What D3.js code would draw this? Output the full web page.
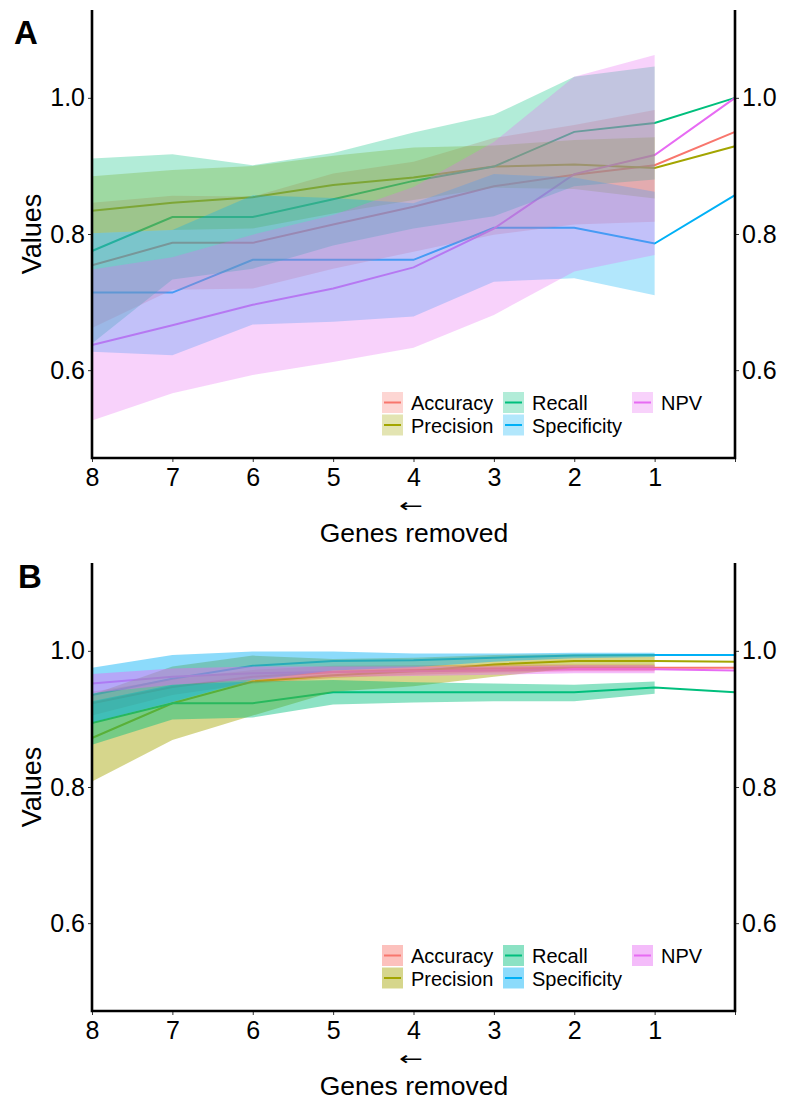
<!DOCTYPE html>
<html><head><meta charset="utf-8">
<script src="https://cdn.jsdelivr.net/npm/d3@7"></script>
<style>body{margin:0;background:#fff} svg{display:block}</style>
</head><body><svg id="c" width="788" height="1103"></svg>
<script>
// ---------- data ----------
const genesRemoved = [8, 7, 6, 5, 4, 3, 2, 1, 0];
const ribbonGenes = [8, 7, 6, 5, 4, 3, 2, 1];
const metrics = ["Accuracy", "Precision", "Recall", "Specificity", "NPV"];
const colors = ["#F8766D", "#A3A500", "#00BF7D", "#00B0F6", "#E76BF3"];
const yTicks = [0.6, 0.8, 1.0];
const xTicks = [8, 7, 6, 5, 4, 3, 2, 1, 0];
const xTickLabels = ["8", "7", "6", "5", "4", "3", "2", "1", ""];

// Panel A means
const aAccuracy    = [0.754, 0.787, 0.787, 0.814, 0.840, 0.870, 0.887, 0.901, 0.950];
const aPrecision   = [0.834, 0.846, 0.854, 0.872, 0.883, 0.899, 0.902, 0.897, 0.929];
const aRecall      = [0.775, 0.825, 0.825, 0.851, 0.878, 0.899, 0.950, 0.963, 1.000];
const aSpecificity = [0.714, 0.714, 0.762, 0.762, 0.762, 0.809, 0.809, 0.786, 0.857];
const aNPV         = [0.637, 0.666, 0.696, 0.720, 0.751, 0.808, 0.888, 0.916, 1.000];
// Panel A ribbons (8..1)
const aAccuracyHi    = [0.846, 0.856, 0.855, 0.889, 0.906, 0.941, 0.960, 0.982];
const aAccuracyLo    = [0.662, 0.718, 0.720, 0.749, 0.774, 0.799, 0.814, 0.818];
const aPrecisionHi   = [0.885, 0.894, 0.900, 0.915, 0.927, 0.930, 0.938, 0.942];
const aPrecisionLo   = [0.801, 0.806, 0.808, 0.830, 0.850, 0.868, 0.866, 0.852];
const aRecallHi      = [0.911, 0.917, 0.901, 0.919, 0.949, 0.975, 1.031, 1.046];
const aRecallLo      = [0.639, 0.733, 0.749, 0.783, 0.808, 0.826, 0.870, 0.880];
const aSpecificityHi = [0.801, 0.806, 0.857, 0.853, 0.845, 0.888, 0.883, 0.862];
const aSpecificityLo = [0.627, 0.622, 0.667, 0.671, 0.679, 0.730, 0.735, 0.710];
const aNPVHi         = [0.748, 0.766, 0.799, 0.828, 0.869, 0.935, 1.031, 1.063];
const aNPVLo         = [0.526, 0.566, 0.593, 0.612, 0.633, 0.681, 0.745, 0.769];

// Panel B means
const bAccuracy    = [0.923, 0.947, 0.962, 0.969, 0.972, 0.974, 0.975, 0.975, 0.975];
const bPrecision   = [0.872, 0.923, 0.955, 0.964, 0.970, 0.980, 0.985, 0.985, 0.984];
const bRecall      = [0.894, 0.923, 0.923, 0.939, 0.939, 0.939, 0.939, 0.946, 0.939];
const bSpecificity = [0.935, 0.959, 0.978, 0.985, 0.986, 0.990, 0.993, 0.994, 0.994];
const bNPV         = [0.952, 0.962, 0.967, 0.969, 0.970, 0.971, 0.973, 0.973, 0.971];
// Panel B ribbons (8..1)
const bAccuracyHi    = [0.940, 0.959, 0.972, 0.978, 0.979, 0.980, 0.980, 0.980];
const bAccuracyLo    = [0.905, 0.935, 0.952, 0.960, 0.965, 0.968, 0.970, 0.970];
const bPrecisionHi   = [0.936, 0.977, 0.993, 0.988, 0.990, 0.994, 0.995, 0.995];
const bPrecisionLo   = [0.808, 0.869, 0.905, 0.940, 0.948, 0.962, 0.975, 0.975];
const bRecallHi      = [0.926, 0.950, 0.955, 0.957, 0.954, 0.952, 0.950, 0.955];
const bRecallLo      = [0.862, 0.899, 0.902, 0.921, 0.924, 0.926, 0.926, 0.937];
const bSpecificityHi = [0.975, 0.994, 0.999, 0.999, 0.996, 0.996, 0.997, 0.997];
const bSpecificityLo = [0.895, 0.925, 0.957, 0.971, 0.976, 0.984, 0.989, 0.991];
const bNPVHi         = [0.966, 0.974, 0.977, 0.977, 0.977, 0.977, 0.979, 0.979];
const bNPVLo         = [0.938, 0.950, 0.958, 0.962, 0.963, 0.965, 0.967, 0.967];

const panels = [
  { label: "A", top: 0, alpha: 0.3,
    means: [aAccuracy, aPrecision, aRecall, aSpecificity, aNPV],
    hi: [aAccuracyHi, aPrecisionHi, aRecallHi, aSpecificityHi, aNPVHi],
    lo: [aAccuracyLo, aPrecisionLo, aRecallLo, aSpecificityLo, aNPVLo] },
  { label: "B", top: 553, alpha: 0.45,
    means: [bAccuracy, bPrecision, bRecall, bSpecificity, bNPV],
    hi: [bAccuracyHi, bPrecisionHi, bRecallHi, bSpecificityHi, bNPVHi],
    lo: [bAccuracyLo, bPrecisionLo, bRecallLo, bSpecificityLo, bNPVLo] }
];

// ---------- drawing ----------
const FONT = "'Liberation Sans', Arial, Helvetica, sans-serif";
const svg = d3.select("#c");
const x = d3.scaleLinear().domain([8, 0]).range([92, 735]);

panels.forEach(p => {
  const g = svg.append("g").attr("transform", `translate(0,${p.top})`);
  const y = d3.scaleLinear().domain([0.471, 1.129]).range([458, 10]);

  // lines (beneath ribbons)
  const line = d3.line().x(d => x(d[0])).y(d => y(d[1]));
  metrics.forEach((m, i) => {
    g.append("path")
      .datum(genesRemoved.map((gr, k) => [gr, p.means[i][k]]))
      .attr("d", line).attr("fill", "none")
      .attr("stroke", colors[i]).attr("stroke-width", 2);
  });
  // ribbons
  const area = d3.area().x(d => x(d[0])).y0(d => y(d[1])).y1(d => y(d[2]));
  metrics.forEach((m, i) => {
    g.append("path")
      .datum(ribbonGenes.map((gr, k) => [gr, p.lo[i][k], p.hi[i][k]]))
      .attr("d", area).attr("fill", colors[i]).attr("fill-opacity", p.alpha)
      .attr("stroke", "none");
  });

  // axes
  const yl = g.append("g").attr("transform", "translate(92,0)")
    .call(d3.axisLeft(y).tickValues(yTicks).tickFormat(d3.format(".1f")).tickSizeOuter(0).tickSize(4).tickPadding(3));
  const yr = g.append("g").attr("transform", "translate(735,0)")
    .call(d3.axisRight(y).tickValues(yTicks).tickFormat(d3.format(".1f")).tickSizeOuter(0).tickSize(4).tickPadding(3));
  const xa = g.append("g").attr("transform", "translate(0,458)")
    .call(d3.axisBottom(x).tickValues(xTicks).tickFormat((d, k) => xTickLabels[k]).tickSizeOuter(0).tickSize(4).tickPadding(6));
  [yl, yr, xa].forEach(ax => {
    ax.select(".domain").remove();
    ax.selectAll(".tick line").attr("stroke", "#333").attr("stroke-width", 1);
    ax.selectAll(".tick text").attr("font-family", FONT).attr("font-size", 25).attr("fill", "#000");
  });
  xa.selectAll(".tick text").attr("dy", "0.72em");

  // axis lines
  g.append("path").attr("d", `M92,10V458H735V10`).attr("fill", "none")
    .attr("stroke", "#000").attr("stroke-width", 2.6);

  // titles
  g.append("text").attr("transform", "translate(41,234) rotate(-90)")
    .attr("text-anchor", "middle").attr("font-family", FONT).attr("font-size", 27).text("Values");
  g.append("text").attr("transform", "translate(411,506) scale(1.5,1)")
    .attr("dominant-baseline", "central")
    .attr("text-anchor", "middle").attr("font-family", "'DejaVu Sans', sans-serif")
    .attr("font-size", 19).text("←");
  g.append("text").attr("x", 414).attr("y", 542).attr("text-anchor", "middle")
    .attr("font-family", FONT).attr("font-size", 26.5).text("Genes removed");
  g.append("text").attr("x", p.label === "A" ? 14 : 18).attr("y", p.label === "A" ? 44 : 35)
    .attr("font-family", FONT).attr("font-weight", "bold").attr("font-size", 33).text(p.label);

  // legend
  const colX = [382, 503, 632];
  const rowY = [392, 414.5];
  const pos = [[0, 0], [0, 1], [1, 0], [1, 1], [2, 0]];
  metrics.forEach((m, i) => {
    const kx = colX[pos[i][0]], ky = rowY[pos[i][1]];
    g.append("rect").attr("x", kx).attr("y", ky).attr("width", 21).attr("height", 21)
      .attr("fill", colors[i]).attr("fill-opacity", p.alpha);
    g.append("line").attr("x1", kx + 2).attr("x2", kx + 19).attr("y1", ky + 10.5).attr("y2", ky + 10.5)
      .attr("stroke", colors[i]).attr("stroke-width", 2);
    g.append("text").attr("x", kx + 29).attr("y", ky + 18).attr("font-family", FONT)
      .attr("font-size", 20).text(m);
  });
});
</script>
</body></html>
